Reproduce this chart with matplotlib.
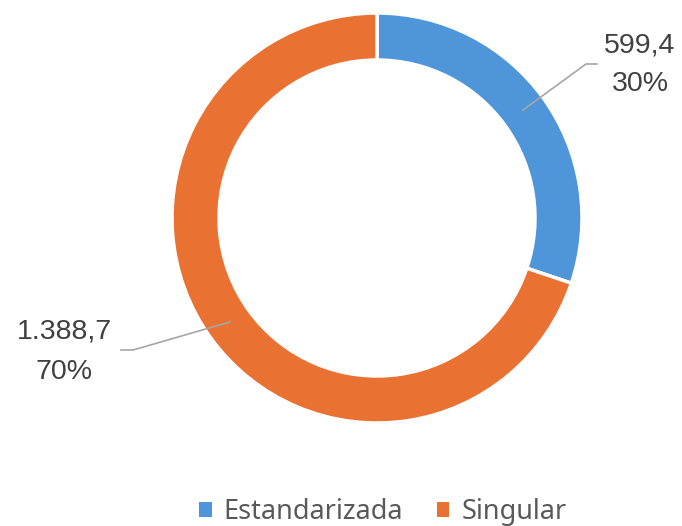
import matplotlib
matplotlib.use("Agg")
import matplotlib.pyplot as plt

categories = ["Estandarizada", "Singular"]
values = [599.4, 1388.7]
value_labels = ["599,4", "1.388,7"]
pct_labels = ["30%", "70%"]
colors = ["#4E95D9", "#E97132"]

W, H = 682, 526


def main():
    fig = plt.figure(figsize=(W / 100, H / 100), dpi=100)
    ax = fig.add_axes([0, 0, 1, 1])

    cx, cy = 377, H - 218
    wedges, _ = ax.pie(
        values, colors=colors, startangle=90, counterclock=False,
        center=(cx, cy), radius=205, frame=True,
        wedgeprops=dict(width=47, edgecolor="white", linewidth=2.5),
    )
    ax.set_xlim(0, W)
    ax.set_ylim(0, H)
    ax.set_aspect("equal")
    ax.axis("off")

    line_kw = dict(color="#A6A6A6", lw=1.2)
    # leader lines
    ax.plot([523, 586, 597], [H - 110, H - 64, H - 64], **line_kw)
    ax.plot([230, 133, 121], [H - 322, H - 350, H - 350], **line_kw)

    txt = dict(fontsize=20.5, color="#404040", ha="center", va="center",
               family="Liberation Sans")
    ax.text(640, H - 46, value_labels[0], **txt)
    ax.text(640, H - 84, pct_labels[0], **txt)
    ax.text(64, H - 331, value_labels[1], **txt)
    ax.text(64, H - 372, pct_labels[1], **txt)

    leg = ax.legend(wedges, categories, loc="center", bbox_to_anchor=(383 / W, 1 - 512 / H),
                    ncol=2, frameon=False, handlelength=0.45, handleheight=0.45,
                    handletextpad=0.45, columnspacing=1.25,
                    prop=dict(family="Noto Sans", size=19.5))
    for t in leg.get_texts():
        t.set_color("#595959")
    for h in leg.legend_handles:
        h.set_edgecolor("none")

    fig.savefig("out.png", dpi=100)


if __name__ == "__main__":
    main()
